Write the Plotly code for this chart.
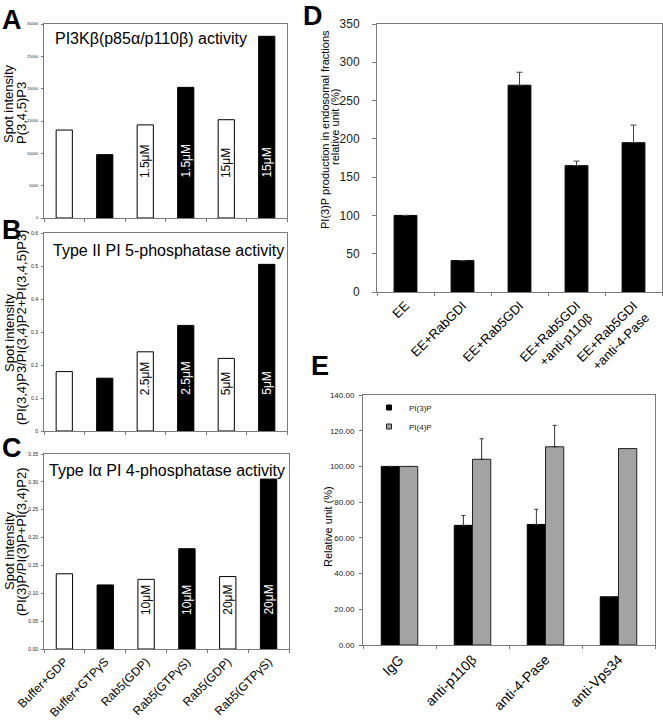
import plotly.graph_objects as go

# ---------------- data ----------------
abc_categories = ["Buffer+GDP", "Buffer+GTPγS", "Rab5(GDP)", "Rab5(GTPγS)", "Rab5(GDP)", "Rab5(GTPγS)"]
abc_fill = ["white", "black", "white", "black", "white", "black"]

a_values = [13600, 9800, 14400, 20200, 15200, 28100]
a_conc = ["", "", "1.5μM", "1.5μM", "15μM", "15μM"]

b_values = [0.18, 0.16, 0.24, 0.32, 0.22, 0.505]
b_conc = ["", "", "2.5μM", "2.5μM", "5μM", "5μM"]

c_values = [0.135, 0.115, 0.125, 0.18, 0.13, 0.305]
c_conc = ["", "", "10μM", "10μM", "20μM", "20μM"]

d_categories = ["EE", "EE+RabGDI", "EE+Rab5GDI", "EE+Rab5GDI<br>+anti-p110β", "EE+Rab5GDI<br>+anti-4-Pase"]
d_values = [100, 41, 270, 165, 195]
d_errors = [None, None, 17, 6, 23]

e_categories = ["IgG", "anti-p110β", "anti-4-Pase", "anti-Vps34"]
e_pi3p = [100, 67, 67.5, 27]
e_pi3p_err = [None, 5.5, 8.5, None]
e_pi4p = [100, 104, 111, 110]
e_pi4p_err = [None, 11.5, 12, None]

FONT = "Liberation Sans, Arial, sans-serif"
W, H = 663, 720


def px(x):
    return x / W


def py(y):
    return 1 - y / H


fig = go.Figure()

idx6 = list(range(6))

# ---------------- A, B, C ----------------
panels = [
    ("x", "y", a_values, a_conc),
    ("x2", "y2", b_values, b_conc),
    ("x3", "y3", c_values, c_conc),
]
for xa, ya, vals, conc in panels:
    fig.add_trace(go.Bar(
        x=idx6, y=vals, width=0.4, xaxis=xa, yaxis=ya,
        marker=dict(color=abc_fill, line=dict(color="black", width=1)),
        showlegend=False, hoverinfo="skip"))

# ---------------- D ----------------
idx5 = list(range(5))
fig.add_trace(go.Bar(
    x=idx5, y=d_values, width=0.4, xaxis="x4", yaxis="y4",
    marker=dict(color="black", line=dict(color="black", width=1)),
    error_y=dict(type="data", array=d_errors, arrayminus=[0] * 5, symmetric=False,
                 color="#444", thickness=1, width=3),
    showlegend=False, hoverinfo="skip"))

# ---------------- E ----------------
idx4 = list(range(4))
fig.add_trace(go.Bar(
    x=idx4, y=e_pi3p, width=0.25, offset=-0.25, xaxis="x5", yaxis="y5",
    marker=dict(color="black", line=dict(color="black", width=1)),
    error_y=dict(type="data", array=e_pi3p_err, arrayminus=[0] * 4, symmetric=False,
                 color="#333", thickness=1, width=2),
    showlegend=False, hoverinfo="skip"))
fig.add_trace(go.Bar(
    x=idx4, y=e_pi4p, width=0.25, offset=0, xaxis="x5", yaxis="y5",
    marker=dict(color="#a3a3a3", line=dict(color="#222", width=1)),
    error_y=dict(type="data", array=e_pi4p_err, arrayminus=[0] * 4, symmetric=False,
                 color="#333", thickness=1, width=2),
    showlegend=False, hoverinfo="skip"))
# legend entries
fig.add_trace(go.Scatter(x=[None], y=[None], mode="markers", name="PI(3)P",
                         xaxis="x5", yaxis="y5",
                         marker=dict(symbol="square", size=5, color="black",
                                     line=dict(color="black", width=1))))
fig.add_trace(go.Scatter(x=[None], y=[None], mode="markers", name="PI(4)P",
                         xaxis="x5", yaxis="y5",
                         marker=dict(symbol="square", size=5, color="#a3a3a3",
                                     line=dict(color="#222", width=1))))

# ---------------- axes ----------------
frame = "#7a7a7a"


def xcat(domain, anchor, n, labels=None, angle=-45, size=12):
    d = dict(domain=domain, anchor=anchor, range=[-0.5, n - 0.5], automargin=False,
             showline=True, mirror=True, linecolor=frame, linewidth=1,
             showgrid=False, zeroline=False, fixedrange=True,
             ticks="", tickmode="array", tickvals=list(range(n)),
             minor=dict(tickmode="array", tickvals=[i - 0.5 for i in range(n + 1)],
                        ticks="outside", ticklen=3, tickcolor=frame, showgrid=False))
    if labels is None:
        d["showticklabels"] = False
    else:
        d["ticktext"] = labels
        d["tickangle"] = angle
        d["tickfont"] = dict(family=FONT, size=size, color="black")
    return d


def yax(domain, anchor, rng, dtick, fmt, size, standoff=2, ticklen=2):
    return dict(domain=domain, anchor=anchor, range=rng, dtick=dtick, tick0=0,
                automargin=False,
                tickformat=fmt, showline=True, mirror=True, linecolor=frame,
                linewidth=1, showgrid=False, zeroline=False, fixedrange=True,
                ticks="outside", ticklen=ticklen, tickcolor=frame,
                ticklabelstandoff=standoff,
                tickfont=dict(family=FONT, size=size, color="#222"))


xA = [px(44), px(287)]
xC = [px(44), px(289)]
fig.update_layout(
    template="none",
    xaxis=xcat(xA, "y", 6),
    yaxis=yax([py(218), py(24)], "x", [0, 30000], 5000, "d", 4),
    xaxis2=xcat(xA, "y2", 6),
    yaxis2=yax([py(431), py(233)], "x2", [0, 0.6], 0.1, "", 5),
    xaxis3=xcat(xC, "y3", 6, abc_categories, -45, 12),
    yaxis3=yax([py(649), py(454)], "x3", [0, 0.35], 0.05, ".2f", 5),
    xaxis4=xcat([px(377), px(662)], "y4", 5, d_categories, -45, 13),
    yaxis4=yax([py(292), py(24)], "x4", [0, 350], 50, "d", 12, standoff=10, ticklen=4),
    xaxis5=xcat([px(363), px(655)], "y5", 4, e_categories, -45, 14),
    yaxis5=yax([py(645), py(395)], "x5", [0, 140], 20, ".2f", 8, standoff=3, ticklen=3),
)

# ---------------- annotations ----------------
ann = []


def txt(x, y, text, size, angle=0, bold=False, xanchor="center", yanchor="middle",
        xref="paper", yref="paper", color="black"):
    ann.append(dict(x=x, y=y, xref=xref, yref=yref, text=("<b>%s</b>" % text) if bold else text,
                    showarrow=False, textangle=angle, xanchor=xanchor, yanchor=yanchor,
                    font=dict(family=FONT, size=size, color=color)))


# panel letters
txt(px(0), py(3), "A", 27, bold=True, xanchor="left", yanchor="top")
txt(px(0), py(213), "B", 27, bold=True, xanchor="left", yanchor="top")
txt(px(0), py(431), "C", 27, bold=True, xanchor="left", yanchor="top")
txt(px(301), py(-1), "D", 27, bold=True, xanchor="left", yanchor="top")
txt(px(309), py(349), "E", 27, bold=True, xanchor="left", yanchor="top")

# panel titles inside plots
txt(px(151), py(38), "PI3Kβ(p85α/p110β) activity", 16)
txt(px(168), py(250), "Type II PI 5-phosphatase activity", 16)
txt(px(167), py(470), "Type Iα PI 4-phosphatase activity", 16)

# y-axis titles (one annotation per line for tight line spacing)
txt(px(9), py(104), "Spot intensity", 13, angle=-90)
txt(px(21), py(113), "P(3,4,5)P3", 13, angle=-90)
txt(px(9), py(333), "Spot intensity", 13, angle=-90)
txt(px(22), py(328), "(PI(3,4)P3/PI(3,4)P2+PI(3,4,5)P3)", 13, angle=-90)
txt(px(9), py(551), "Spot intensity", 13, angle=-90)
txt(px(21), py(542), "(PI(3)P/PI(3)P+PI(3,4)P2)", 13, angle=-90)
txt(px(325), py(130), "PI(3)P production in endosomal fractions", 11, angle=-90)
txt(px(335), py(127), "relative unit (%)", 11, angle=-90)
txt(px(328), py(527), "Relative unit (%)", 11, angle=-90)

# concentration labels inside bars
label_base = {"x": 5900, "x2": 0.103, "x3": 0.0574}
for (xa, ya, vals, conc) in panels:
    for i, t in enumerate(conc):
        if not t:
            continue
        col = "white" if abc_fill[i] == "black" else "black"
        ann.append(dict(x=i, y=label_base[xa], xref=xa, yref=ya, text=t, showarrow=False,
                        textangle=-90, xanchor="center", yanchor="bottom",
                        font=dict(family=FONT, size=12, color=col)))

fig.update_layout(
    annotations=ann,
    width=W, height=H,
    autosize=False,
    margin=dict(l=0, r=0, t=0, b=0, pad=0),
    paper_bgcolor="white", plot_bgcolor="white",
    barmode="overlay",
    showlegend=True,
    legend=dict(x=px(369), y=py(393), xanchor="left", yanchor="top",
                bgcolor="rgba(0,0,0,0)", font=dict(family=FONT, size=8, color="#222"),
                itemwidth=30, tracegroupgap=0),
    font=dict(family=FONT),
)

fig.write_html(
    "out.html",
    config={"responsive": False, "displayModeBar": False},
    post_script="document.body.style.margin='0';document.body.style.padding='0';"
                "document.body.style.overflow='hidden';",
)
